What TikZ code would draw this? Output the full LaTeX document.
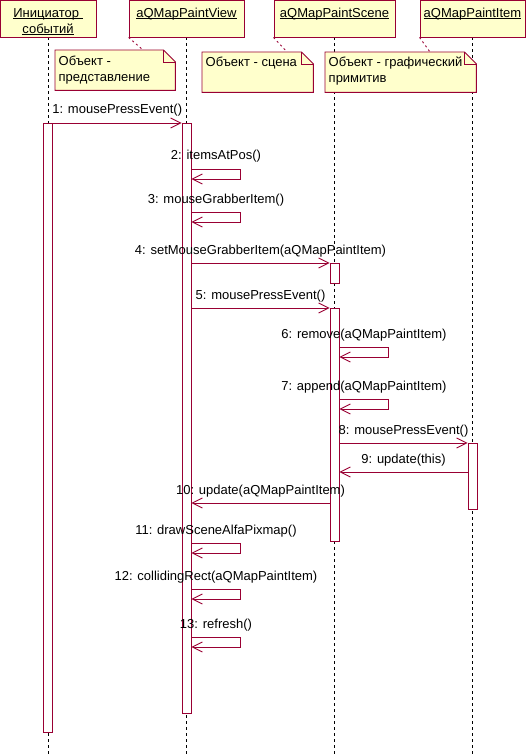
\documentclass[tikz,border=0pt]{standalone}
\usepackage{fontspec}
\setmainfont{Liberation Sans}
\usepackage{tikz}
\usetikzlibrary{arrows.meta, positioning, backgrounds}
\definecolor{umlred}{RGB}{153, 0, 51}
\definecolor{umlfill}{RGB}{255, 255, 204}
\newcommand{\objname}[1]{\setbox0=\hbox{#1}\rlap{\rule[-2pt]{\wd0}{0.8pt}}\box0}

\begin{document}
\begin{tikzpicture}[
    x=1pt, y=-1pt,
    font=\fontsize{13}{16}\selectfont,
    obj/.style={draw=umlred, line width=0.9pt, fill=umlfill, minimum height=37pt, inner sep=0pt},
    hl/.style={anchor=base, yshift=-17.5pt, inner sep=0pt},
    note/.style={minimum height=40pt, anchor=north west, inner sep=0pt},
    nl/.style={anchor=base west, xshift=3.5pt, yshift=-14.5pt, inner sep=0pt},
    noteline/.style={draw=umlred, line width=0.9pt},
    link/.style={draw=umlred, line width=0.9pt, dash pattern=on 2pt off 3pt},
    life/.style={draw=black, line width=0.9pt, dash pattern=on 3pt off 3pt},
    bar/.style={draw=umlred, line width=0.9pt, fill=white, minimum width=9pt, inner sep=0pt, anchor=north},
    msg/.style={draw=umlred, line width=0.9pt, -{Straight Barb[length=10pt, width=10pt]}},
    lbl/.style={midway, anchor=base, yshift=9pt, inner sep=0pt}
]
    \useasboundingbox (0,0) rectangle (528,754);
    \coordinate (bottom) at (0,754);

    % Objects
    \node[obj, minimum width=96pt, label={[hl]north:\objname{Инициатор~}}, label={[hl, yshift=-16pt]north:\objname{событий}}] (init) at (48,18.5) {};
    \node[obj, minimum width=115pt, label={[hl]north:\objname{aQMapPaintView}}] (view) at (186.5,18.5) {};
    \node[obj, minimum width=121pt, label={[hl]north:\objname{aQMapPaintScene}}] (scene) at (334.5,18.5) {};
    \node[obj, minimum width=105pt, label={[hl]north:\objname{aQMapPaintItem}}] (item) at (472.5,18.5) {};

    % Notes
    \node[note, minimum width=120pt, label={[nl, yshift=-1pt]north west:Объект -}, label={[nl, yshift=-17pt]north west:представление}] (nview) at (55,50) {};
    \node[note, minimum width=111pt, label={[nl]north west:Объект - сцена}] (nscene) at (202,52) {};
    \node[note, minimum width=151pt, label={[nl]north west:Объект - графический}, label={[nl, yshift=-16pt]north west:примитив}] (nitem) at (325,52) {};

    \begin{scope}[on background layer]
        % Lifelines
        \foreach \o in {init, view, scene, item}
            \draw[life] (\o.south) -- (\o.south |- bottom);
        % Note bodies
        \foreach \n in {nview, nscene, nitem} {
            \draw[noteline, fill=umlfill] (\n.north west) -- ([xshift=-12pt]\n.north east) -- ([yshift=-12pt]\n.north east) |- (\n.south west) -- cycle;
            \draw[noteline] ([xshift=-12pt]\n.north east) |- ([yshift=-12pt]\n.north east);
        }
    \end{scope}

    \draw[link] (view.south west) -- ([xshift=88pt]nview.north west);
    \draw[link] (scene.south west) -- ([xshift=85pt]nscene.north west);
    \draw[link] (item.south west) -- ([xshift=105pt]nitem.north west);

    % Activations
    \node[bar, minimum height=609pt, below=86pt of init] (initbar) {};
    \node[bar, minimum height=590pt, below=86pt of view] (viewbar) {};
    \node[bar, minimum height=20pt, below=226pt of scene] (scenebara) {};
    \node[bar, minimum height=233pt, below=271pt of scene] (scenebarb) {};
    \node[bar, minimum height=66pt, below=406pt of item] (itembar) {};

    % Message rows
    \foreach \i/\y in {1/123, 2/169, 3/212, 4/263, 5/308, 6/347, 7/399, 8/443, 9/472, 10/503, 11/543, 12/589, 13/637}
        \coordinate (m\i) at (0,\y);

    % Messages
    \draw[msg] (initbar.east |- m1) -- (viewbar.west |- m1) node[lbl] {1: mousePressEvent()};
    \draw[msg] (viewbar.east |- m2) -- ++(49,0) node[lbl] {2: itemsAtPos()} -- ++(0,10) -- ++(-49,0);
    \draw[msg] (viewbar.east |- m3) -- ++(49,0) node[lbl] {3: mouseGrabberItem()} -- ++(0,10) -- ++(-49,0);
    \draw[msg] (viewbar.east |- m4) -- (scenebara.west |- m4) node[lbl] {4: setMouseGrabberItem(aQMapPaintItem)};
    \draw[msg] (viewbar.east |- m5) -- (scenebarb.west |- m5) node[lbl] {5: mousePressEvent()};
    \draw[msg] (scenebarb.east |- m6) -- ++(49,0) node[lbl] {6: remove(aQMapPaintItem)} -- ++(0,10) -- ++(-49,0);
    \draw[msg] (scenebarb.east |- m7) -- ++(49,0) node[lbl] {7: append(aQMapPaintItem)} -- ++(0,10) -- ++(-49,0);
    \draw[msg] (scenebarb.east |- m8) -- (itembar.west |- m8) node[lbl] {8: mousePressEvent()};
    \draw[msg] (itembar.west |- m9) -- (scenebarb.east |- m9) node[lbl] {9: update(this)};
    \draw[msg] (scenebarb.west |- m10) -- (viewbar.east |- m10) node[lbl] {10: update(aQMapPaintItem)};
    \draw[msg] (viewbar.east |- m11) -- ++(49,0) node[lbl] {11: drawSceneAlfaPixmap()} -- ++(0,10) -- ++(-49,0);
    \draw[msg] (viewbar.east |- m12) -- ++(49,0) node[lbl] {12: collidingRect(aQMapPaintItem)} -- ++(0,10) -- ++(-49,0);
    \draw[msg] (viewbar.east |- m13) -- ++(49,0) node[lbl] {13: refresh()} -- ++(0,10) -- ++(-49,0);
\end{tikzpicture}
\end{document}
